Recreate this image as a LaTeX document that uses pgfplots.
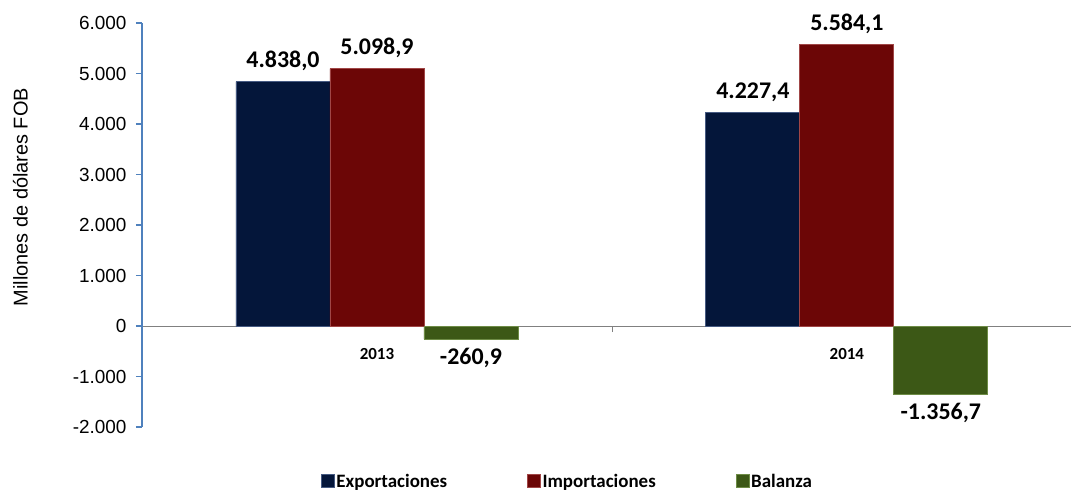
\documentclass[border=0pt]{standalone}
\usepackage{fontspec}
\setmainfont{Liberation Sans}
\newfontfamily\calibri{Carlito}
\usepackage{pgfplots}
\pgfplotsset{compat=1.18}

\definecolor{expo}{RGB}{4,22,58}
\definecolor{expoedge}{RGB}{70,90,130}
\definecolor{impo}{RGB}{108,6,6}
\definecolor{impoedge}{RGB}{160,70,70}
\definecolor{bal}{RGB}{60,88,22}
\definecolor{baledge}{RGB}{110,140,70}
\definecolor{yaxis}{RGB}{79,129,189}

\begin{document}
\begin{tikzpicture}
\path[use as bounding box] (0,0) rectangle (1071bp,493bp);
\begin{axis}[
    at={(142bp,66bp)}, anchor=south west,
    scale only axis, width=929bp, height=404bp,
    ymin=-2000, ymax=6000,
    ytick={-2000,-1000,0,1000,2000,3000,4000,5000,6000},
    xmin=-0.5, xmax=1.477,
    xtick={0,1}, xticklabels={2013,2014},
    ybar=0pt, bar width=0.2,
    axis y line=left, axis x line=middle,
    axis line style={-},
    y axis line style={draw=yaxis, line width=1.2pt},
    x axis line style={draw=gray, line width=0.8pt},
    ytick style={draw=yaxis, line width=1.2pt},
    xtick style={draw=none},
    tick align=outside, major tick length=6bp,
    extra x ticks={0.5}, extra x tick labels={},
    extra x tick style={xtick style={draw=gray, line width=0.8pt}},
    scaled y ticks=false,
    /pgf/number format/.cd, use comma, 1000 sep={.}, assume math mode=true,
    /pgfplots/.cd,
    yticklabel style={font=\fontsize{19}{22}\selectfont, xshift=-6bp},
    xticklabel style={font=\calibri\bfseries\fontsize{17}{20}\selectfont, yshift=-13bp},
    ylabel={Millones de dólares FOB},
    every axis y label/.style={at={(axis description cs:-0.131,0.569)}, rotate=90, anchor=center, font=\fontsize{20}{24}\selectfont},
    clip=false,
    nodes near coords={\pgfmathprintnumber[fixed,fixed zerofill,precision=1]{\pgfplotspointmeta}},
    nodes near coords style={font=\calibri\bfseries\fontsize{24}{28}\selectfont, text=black},
    legend columns=3,
    legend style={at={(axis description cs:0.458,-0.134)}, anchor=center, draw=none,
        font=\calibri\bfseries\fontsize{19}{22}\selectfont,
        /tikz/every even column/.append style={column sep=78bp}},
    legend cell align=left,
    legend image code/.code={\draw[#1, line width=0.4pt] (0bp,-6bp) rectangle (13bp,7bp);},
]
\addplot[fill=expo, draw=expoedge, line width=0.8pt,
    every node near coord/.append style={yshift=7bp}] coordinates {(0,4838.0) (1,4227.4)};
\addplot[fill=impo, draw=impoedge, line width=0.8pt,
    every node near coord/.append style={yshift=7bp}] coordinates {(0,5098.9) (1,5584.1)};
\addplot[fill=bal, draw=baledge, line width=0.8pt,
    every node near coord/.append style={yshift=-5bp}] coordinates {(0,-260.9) (1,-1356.7)};
\legend{Exportaciones, Importaciones, Balanza}
\end{axis}
\end{tikzpicture}
\end{document}
